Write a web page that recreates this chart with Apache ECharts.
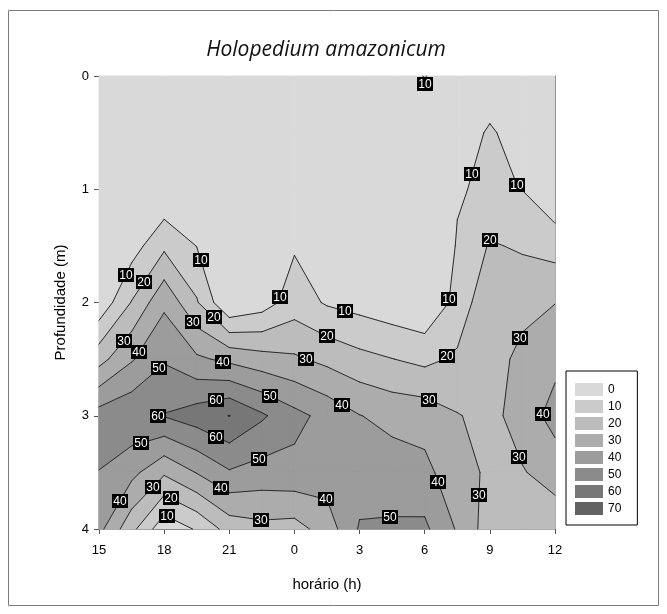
<!DOCTYPE html>
<html>
<head>
<meta charset="utf-8">
<script src="https://cdn.jsdelivr.net/npm/echarts/dist/echarts.min.js"></script>
<style>
  html, body { margin: 0; padding: 0; background: #fff; }
  #chart { width: 667px; height: 614px; }
</style>
</head>
<body>
<div id="chart"></div>
<script>
// Sampling times (clock hour, starting 15 h and running through the night)
const sampleHours = [15, 16.5, 18, 19.5, 21, 22.5, 0, 1.5, 3, 4.5, 6, 7.5, 9, 10.5, 12];
// Sampling depths (m)
const depths = [0, 0.5, 1, 1.5, 2, 2.5, 3, 3.5, 4];

// Holopedium amazonicum density at each depth, one value per sampling time
const densityAt0m   = [2, 2, 2, 2, 2, 2, 2, 2, 3, 5, 10.3, 5, 5, 3, 2];
const densityAt05m  = [2, 2, 2, 2, 2, 2, 2, 2, 3, 4, 5, 5.8, 10.95, 6.5, 3];
const densityAt1m   = [2, 2, 1, 3, 2, 2, 3, 2, 2, 2, 1, 9.3, 11.5, 9.8, 1.3];
const densityAt15m  = [2, 5.5, 18, 9.8, 2, 2, 9, 4, 3, 2, 1, 10.6, 20.9, 18.8, 15.8];
const densityAt2m   = [2.5, 20.5, 38, 21, 0, 5, 15, 8.9, 6.3, 3.5, 1, 13.2, 28.4, 26.7, 29.8];
const densityAt25m  = [26.3, 39, 49, 41.7, 37.7, 34, 31.5, 27.4, 23, 20.2, 17.4, 21.7, 25.2, 33, 37.1];
const densityAt3m   = [54.4, 58, 60.5, 65, 70.2, 61.5, 53, 46.8, 40.3, 37, 36, 30.5, 27.3, 34, 44];
const densityAt35m  = [49.8, 43, 31.5, 40.5, 49, 46, 47, 45, 45, 45, 42.7, 33.9, 28.3, 29.4, 33.7];
const densityAt4m   = [43, 23, 3, 11, 24, 27, 26, 34.6, 51, 51.4, 52, 39, 24.7, 25, 24.5];

// Contour levels (also the legend entries)
const contourLevels = [0, 10, 20, 30, 40, 50, 60, 70];
// Tick labels of the time axis (every 3 h from 15 h)
const timeTickLabels = ['15', '18', '21', '0', '3', '6', '9', '12'];
const depthTickLabels = ['0', '1', '2', '3', '4'];

// Contour label anchors: [hours since 15 h, depth (m), level]
const labelHours  = [15.32, 17.0, 19.25, 18.0, 1.25, 1.98, 4.75, 8.45, 11.3, 16.1,
                     4.38, 5.08, 10.5, 1.34, 1.94, 9.6, 16.06, 18.92, 5.68, 2.86,
                     5.35, 7.85, 2.58, 11.2, 15.2, 20.3, 5.4, 1.98, 7.4, 19.3,
                     15.8, 2.3, 5.54, 3.32, 1.06, 10.48, 17.2, 3.18, 7.48, 13.4];
const labelDepths = [0.1, 0.86, 0.96, 1.43, 1.76, 1.81, 1.62, 1.96, 2.08, 1.97,
                     2.17, 2.17, 2.3, 2.37, 2.45, 2.47, 2.48, 2.27, 2.55, 2.6,
                     2.83, 2.83, 3.01, 2.9, 2.86, 2.97, 3.18, 3.28, 3.39, 3.37,
                     3.57, 3.59, 3.66, 3.72, 3.76, 3.73, 3.7, 3.87, 3.92, 3.89];
const labelLevels = [10, 10, 10, 20, 10, 20, 10, 10, 10, 10,
                     30, 20, 20, 30, 40, 30, 20, 30, 40, 50,
                     60, 50, 60, 40, 30, 40, 60, 50, 50, 30,
                     40, 30, 40, 20, 40, 40, 30, 10, 30, 50];

const bandColors = ['#d9d9d9', '#cbcbcb', '#bcbcbc', '#acacac', '#9c9c9c', '#8b8b8b', '#777777', '#626262'];

const densityGrid = [densityAt0m, densityAt05m, densityAt1m, densityAt15m, densityAt2m,
                     densityAt25m, densityAt3m, densityAt35m, densityAt4m];
const hoursElapsed = sampleHours.map(h => (h - 15 + 24) % 24);

// Clip a cell polygon to the part where density >= level (linear along edges)
function clipAbove(poly, level) {
  const out = [];
  for (let i = 0; i < poly.length; i++) {
    const a = poly[i], b = poly[(i + 1) % poly.length];
    const ain = a.v >= level, bin = b.v >= level;
    if (ain) out.push(a);
    if (ain !== bin) {
      const t = (level - a.v) / (b.v - a.v);
      out.push({ x: a.x + t * (b.x - a.x), y: a.y + t * (b.y - a.y), v: level, cross: true });
    }
  }
  return out;
}

function cellQuad(r, c) {
  return [
    { x: hoursElapsed[c],     y: depths[r],     v: densityGrid[r][c] },
    { x: hoursElapsed[c + 1], y: depths[r],     v: densityGrid[r][c + 1] },
    { x: hoursElapsed[c + 1], y: depths[r + 1], v: densityGrid[r + 1][c + 1] },
    { x: hoursElapsed[c],     y: depths[r + 1], v: densityGrid[r + 1][c] }
  ];
}

// Regions at or above each level, in data units
const regionsByLevel = contourLevels.map(level => {
  const polys = [];
  for (let r = 0; r < depths.length - 1; r++) {
    for (let c = 0; c < hoursElapsed.length - 1; c++) {
      const p = clipAbove(cellQuad(r, c), level);
      if (p.length >= 3) polys.push(p);
    }
  }
  return polys;
});

// Contour segments per level: consecutive crossing points of the clipped cells
const segmentsByLevel = {};
contourLevels.forEach((level, k) => {
  const segs = [];
  if (level > 0) {
    regionsByLevel[k].forEach(p => {
      for (let i = 0; i < p.length; i++) {
        const a = p[i], b = p[(i + 1) % p.length];
        if (a.cross && b.cross) segs.push([a, b]);
      }
    });
  }
  segmentsByLevel[level] = segs;
});

const chart = echarts.init(document.getElementById('chart'), null, { renderer: 'canvas' });

const fillSeries = contourLevels.map((level, k) => ({
  name: String(level),
  type: 'custom',
  coordinateSystem: 'cartesian2d',
  z: 2 + k * 0.01,
  silent: true,
  itemStyle: { color: bandColors[k] },
  data: [[0, 0]],
  renderItem: function (params, api) {
    const children = regionsByLevel[k].map(poly => ({
      type: 'polygon',
      shape: { points: poly.map(pt => api.coord([pt.x, pt.y])) },
      style: { fill: bandColors[k], stroke: bandColors[k], lineWidth: 0.8 }
    }));
    return { type: 'group', children: children };
  }
}));

const lineSeries = {
  name: 'contours',
  type: 'custom',
  coordinateSystem: 'cartesian2d',
  z: 3,
  silent: true,
  data: [[0, 0]],
  renderItem: function (params, api) {
    const children = [];
    contourLevels.forEach(level => {
      segmentsByLevel[level].forEach(s => {
        const p1 = api.coord([s[0].x, s[0].y]), p2 = api.coord([s[1].x, s[1].y]);
        children.push({
          type: 'line',
          shape: { x1: p1[0], y1: p1[1], x2: p2[0], y2: p2[1] },
          style: { stroke: '#2a2a2a', lineWidth: 1, lineCap: 'round' }
        });
      });
    });
    return { type: 'group', children: children };
  }
};

// Labels snapped onto the nearest point of their contour line
const labelSeries = {
  name: 'contourLabels',
  type: 'custom',
  coordinateSystem: 'cartesian2d',
  z: 4,
  silent: true,
  data: [[0, 0]],
  renderItem: function (params, api) {
    const tl = api.coord([0, 0]);
    const br = api.coord([21, 4]);
    const children = [];
    labelLevels.forEach((level, i) => {
      const anchor = api.coord([labelHours[i], labelDepths[i]]);
      let best = anchor, bestD = Infinity;
      segmentsByLevel[level].forEach(s => {
        const a = api.coord([s[0].x, s[0].y]), b = api.coord([s[1].x, s[1].y]);
        const dx = b[0] - a[0], dy = b[1] - a[1];
        const len2 = dx * dx + dy * dy;
        let t = len2 > 0 ? ((anchor[0] - a[0]) * dx + (anchor[1] - a[1]) * dy) / len2 : 0;
        t = Math.max(0, Math.min(1, t));
        const px = a[0] + t * dx, py = a[1] + t * dy;
        const d = (px - anchor[0]) ** 2 + (py - anchor[1]) ** 2;
        if (d < bestD) { bestD = d; best = [px, py]; }
      });
      const w = 16, h = 14;
      const cx = Math.max(tl[0] + w / 2, Math.min(br[0] - w / 2, best[0]));
      const cy = Math.max(tl[1] + h / 2 + 1, Math.min(br[1] - h / 2, best[1]));
      children.push({
        type: 'rect',
        shape: { x: Math.round(cx - w / 2), y: Math.round(cy - h / 2), width: w, height: h },
        style: { fill: '#000' }
      });
      children.push({
        type: 'text',
        x: Math.round(cx), y: Math.round(cy) + 0.5,
        style: {
          text: String(level), fill: '#fff', align: 'center', verticalAlign: 'middle',
          font: '12px "Liberation Sans", Arial, sans-serif'
        }
      });
    });
    return { type: 'group', children: children };
  }
};

const axisFont = '"Liberation Sans", Arial, sans-serif';

chart.setOption({
  animation: false,
  backgroundColor: '#fff',
  grid: { left: 99, right: 112, top: 76, bottom: 85, containLabel: false, outerBoundsMode: 'none' },
  xAxis: {
    type: 'value', min: 0, max: 21, interval: 3,
    name: 'horário (h)', nameLocation: 'middle', nameGap: 48,
    nameTextStyle: { color: '#000', fontSize: 15, fontFamily: axisFont },
    axisLine: { show: true, onZero: false, lineStyle: { color: '#555', width: 1 } },
    axisTick: { show: true, inside: false, length: 5, lineStyle: { color: '#555' } },
    axisLabel: { color: '#000', fontSize: 13, fontFamily: axisFont, margin: 15,
      formatter: v => timeTickLabels[Math.round(v / 3)] },
    splitLine: { show: false }
  },
  yAxis: [{
    type: 'value', min: 0, max: 4, interval: 1, inverse: true,
    name: 'Profundidade (m)', nameLocation: 'middle', nameGap: 31,
    nameTextStyle: { color: '#000', fontSize: 15, fontFamily: axisFont },
    axisLine: { show: true, onZero: false, lineStyle: { color: '#bbb', width: 1 } },
    axisTick: { show: true, inside: false, length: 5, lineStyle: { color: '#555' } },
    axisLabel: { color: '#000', fontSize: 13, fontFamily: axisFont, margin: 10,
      formatter: v => depthTickLabels[Math.round(v)] },
    splitLine: { show: false }
  }, {
    type: 'value', min: 0, max: 4, inverse: true, position: 'right',
    axisLine: { show: true, onZero: false, lineStyle: { color: '#666', width: 1 } },
    axisTick: { show: false }, axisLabel: { show: false }, splitLine: { show: false }
  }],
  legend: {
    data: contourLevels.map(String),
    orient: 'vertical', left: 566, top: 371,
    padding: [12, 16, 10, 9], itemGap: 4, itemWidth: 28, itemHeight: 13,
    icon: 'rect', selectedMode: false,
    borderColor: '#000', borderWidth: 1, backgroundColor: '#fff',
    textStyle: { color: '#000', fontSize: 12, fontFamily: axisFont }
  },
  graphic: [
    {
      type: 'rect', silent: true, z: -1,
      shape: { x: 8.5, y: 10.5, width: 650, height: 595 },
      style: { fill: 'none', stroke: '#7a7a7a', lineWidth: 1 }
    },
    {
      type: 'text', silent: true,
      x: 326, y: 50,
      style: {
        text: 'Holopedium amazonicum', fill: '#111', align: 'center', verticalAlign: 'middle',
        font: 'italic 21px "Open Sans", "DejaVu Sans", sans-serif'
      }
    }
  ],
  series: fillSeries.concat([lineSeries, labelSeries])
});
</script>
</body>
</html>
